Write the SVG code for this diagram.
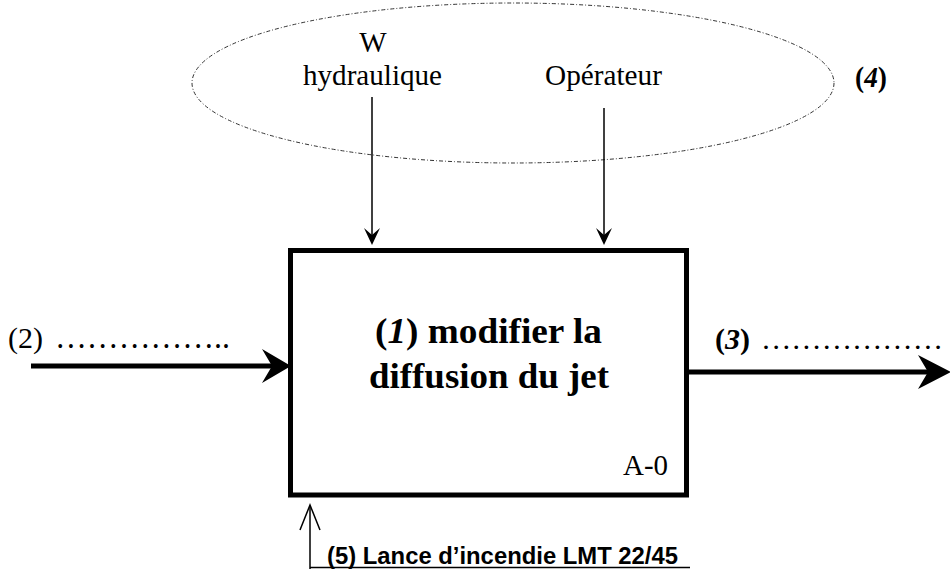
<svg xmlns="http://www.w3.org/2000/svg" width="950" height="569" viewBox="0 0 950 569">
<style>
.t{font-family:"Liberation Serif","Times New Roman",serif;fill:#000}
.lbl{font-size:29px}
.dots{font-size:33px}
.dots2{font-size:30px}
.ttl{font-size:36px;font-weight:bold}
.b{font-weight:bold}
.i{font-style:italic}
.s{font-family:"Liberation Sans",Arial,sans-serif;font-weight:bold;font-size:23px;fill:#000}
.thin{stroke:#000;stroke-width:1.5;fill:none}
.thick{stroke:#000;stroke-width:5;fill:none}
</style>
<rect width="950" height="569" fill="#fff"/>
<g id="context">
<ellipse cx="513" cy="83" rx="321" ry="80" fill="none" stroke="#333" stroke-width="1" stroke-dasharray="4 2 1 2"/>
<text class="t lbl" x="373" y="52" text-anchor="middle">W</text>
<text class="t lbl" x="303" y="85" textLength="139" lengthAdjust="spacingAndGlyphs">hydraulique</text>
<text class="t lbl" x="545" y="85" textLength="117" lengthAdjust="spacingAndGlyphs">Opérateur</text>
<text class="t lbl b" x="855" y="87" textLength="32" lengthAdjust="spacingAndGlyphs">(<tspan class="i">4</tspan>)</text>
</g>
<g id="box">
<rect x="290.5" y="250.5" width="396" height="244.5" fill="#fff" stroke="#000" stroke-width="5"/>
<text class="t ttl" x="375" y="343" textLength="227" lengthAdjust="spacingAndGlyphs">(<tspan class="i">1</tspan>) modifier la</text>
<text class="t ttl" x="369" y="388" textLength="240" lengthAdjust="spacingAndGlyphs">diffusion du jet</text>
<text class="t lbl" x="623" y="475" textLength="45" lengthAdjust="spacingAndGlyphs">A-0</text>
</g>
<g id="input">
<text class="t lbl" x="8" y="348" textLength="35" lengthAdjust="spacingAndGlyphs">(2)</text>
<text class="t dots" x="55" y="348" textLength="175" lengthAdjust="spacingAndGlyphs">……………..</text>
</g>
<g id="output">
<text class="t lbl b" x="715" y="349" textLength="35" lengthAdjust="spacingAndGlyphs">(<tspan class="i">3</tspan>)</text>
<text class="t dots2" x="761" y="349" textLength="182" lengthAdjust="spacingAndGlyphs">………………</text>
</g>
<g id="mechanism">
<text class="s" x="327" y="564" textLength="351" lengthAdjust="spacingAndGlyphs">(5) Lance d’incendie LMT 22/45</text>
</g>
<g id="connectors">
<line class="thick" x1="31" y1="366" x2="274" y2="366"/>
<polygon points="291,366 262,349 272,366 262,383" fill="#000"/>
<line class="thick" x1="687" y1="372" x2="932" y2="372"/>
<polygon points="951,372 918,355 928,372 918,389" fill="#000"/>
<line class="thin" x1="372" y1="97" x2="372" y2="238"/>
<polygon points="372,245 364,228 372,235 380,228" fill="#000"/>
<line class="thin" x1="604" y1="108" x2="604" y2="238"/>
<polygon points="604,245 596,228 604,235 612,228" fill="#000"/>
<line class="thin" x1="310" y1="569" x2="310" y2="506"/>
<polyline class="thin" points="300,530 310,505 320,530" stroke-width="1"/>
<line x1="310" y1="567.5" x2="690" y2="567.5" stroke="#000" stroke-width="1.5"/>
</g>
</svg>
